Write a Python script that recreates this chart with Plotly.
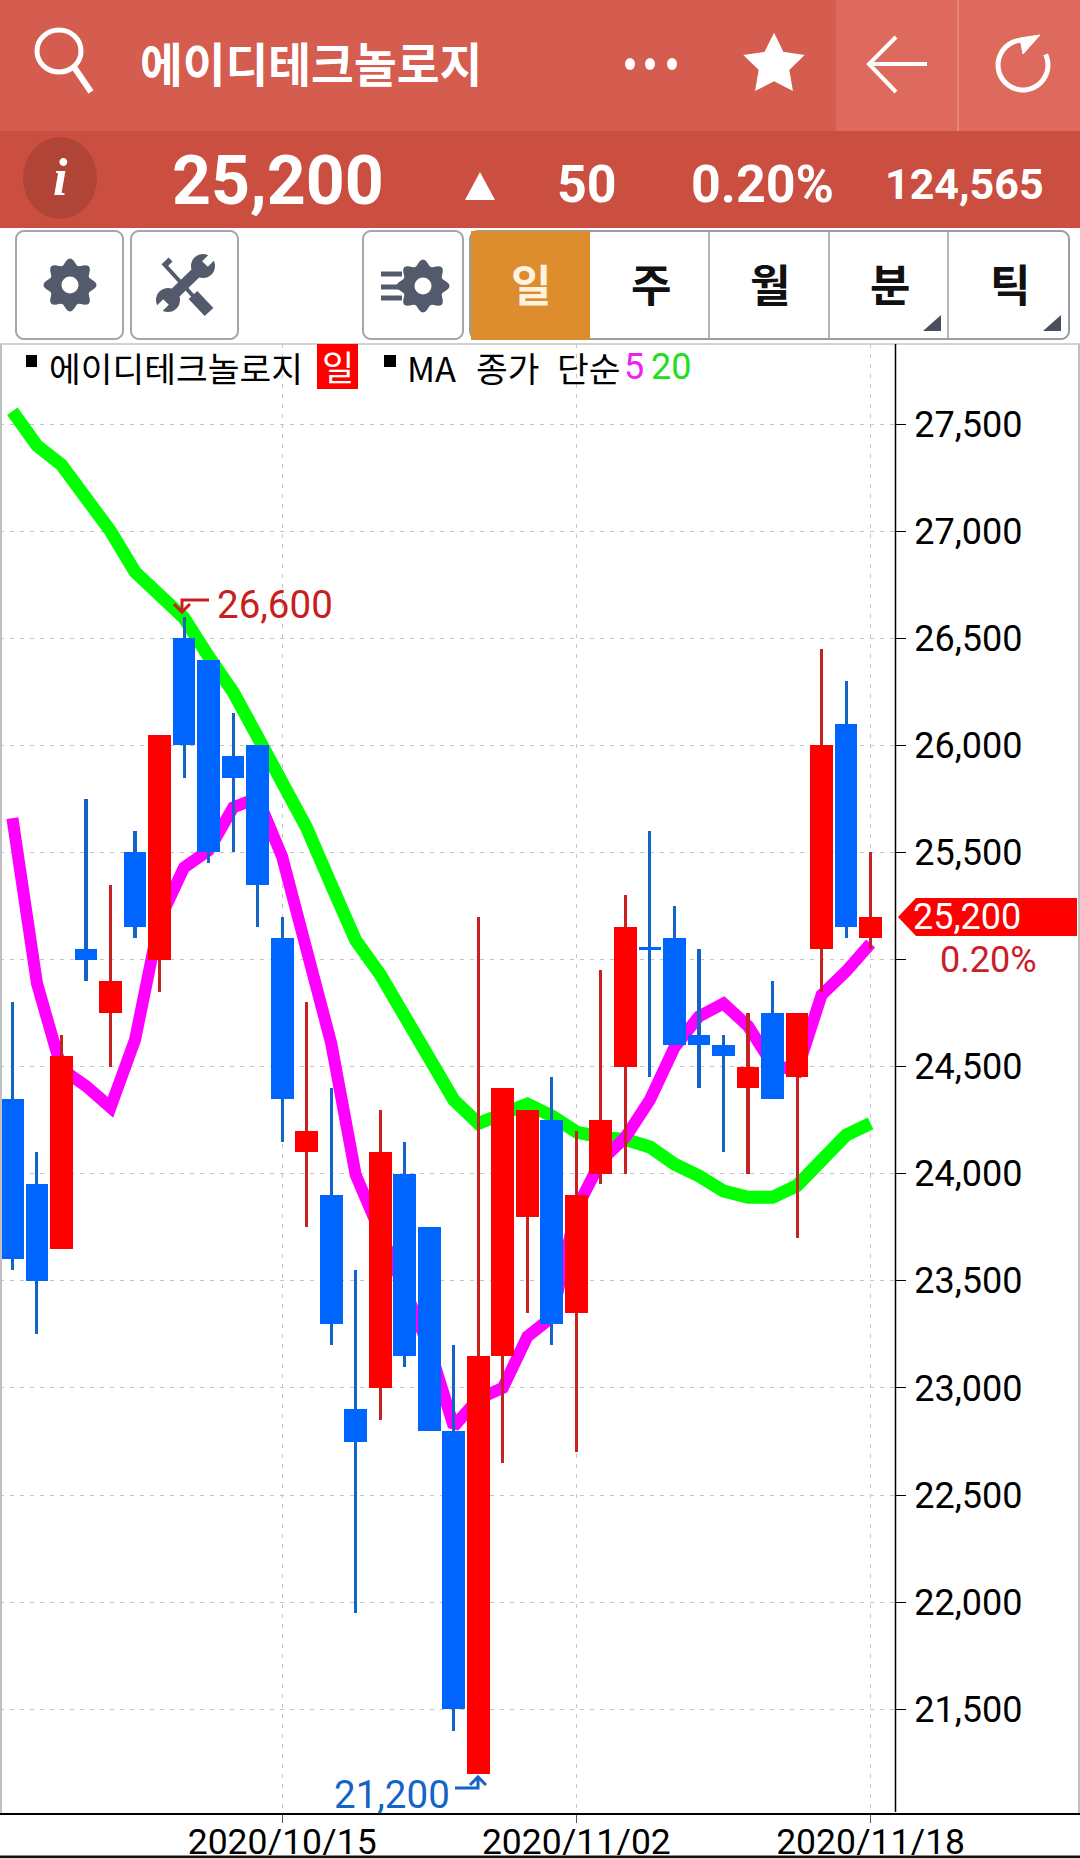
import math
import plotly.graph_objects as go

W, H = 1080, 1858
dates = ["2020/09/24","2020/09/25","2020/09/28","2020/09/29","2020/10/05","2020/10/06","2020/10/07","2020/10/08",
         "2020/10/12","2020/10/13","2020/10/14","2020/10/15","2020/10/16","2020/10/19","2020/10/20","2020/10/21",
         "2020/10/22","2020/10/23","2020/10/26","2020/10/27","2020/10/28","2020/10/29","2020/10/30","2020/11/02",
         "2020/11/03","2020/11/04","2020/11/05","2020/11/06","2020/11/09","2020/11/10","2020/11/11","2020/11/12",
         "2020/11/13","2020/11/16","2020/11/17","2020/11/18"]
opens  = [24350,23950,23650,25050,24750,25500,25000,26500,26400,25950,26000,25100,24100,23900,22900,23000,
          24000,23750,22800,21200,23150,23800,24250,23350,24000,24500,25057,25100,24650,24600,24400,24750,
          24450,25050,26100,25100]
closes = [23600,23500,24550,25000,24900,25150,26050,26000,25500,25850,25350,24350,24200,23300,22750,24100,
          23150,22800,21500,23150,24400,24300,23300,23900,24250,25150,25043,24600,24600,24550,24500,24350,
          24750,26000,25150,25200]
highs  = [24800,24100,24650,25750,25350,25600,26050,26600,26400,26150,26000,25200,24800,24400,23550,24300,
          24150,23750,23200,25200,24400,24300,24450,24200,24950,25300,25600,25250,25050,24650,24750,24900,
          24750,26450,26300,25500]
lows   = [23550,23250,23650,24900,24500,25100,24850,25850,25450,25500,25150,24150,23750,23200,21950,22850,
          23100,22800,21400,21200,22650,23350,23200,22700,23950,24000,24450,24600,24400,24100,24000,24350,
          23700,24850,25100,25050]
ma5  = [25660,24890,24490,24410,24310,24625,25185,25430,25510,25710,25755,25480,25045,24610,23995,23725,
        23460,23190,22820,22950,23000,23240,23330,23835,24060,24170,24345,24590,24735,24795,24690,24510,
        24480,24835,24945,25075]
ma20 = [27560,27400,27310,27160,27000,26810,26710,26595,26415,26250,26040,25825,25615,25350,25090,24930,
        24735,24515,24345,24235,24285,24325,24270,24195,24170,24160,24125,24045,23990,23920,23890,23890,
        23945,24055,24180,24235]
y_ticks = [21500,22000,22500,23000,23500,24000,24500,25000,25500,26000,26500,27000,27500]
y_labels = ["21,500","22,000","22,500","23,000","23,500","24,000","24,500","","25,500","26,000","26,500","27,000","27,500"]
x_ticks = ["2020/10/15","2020/11/02","2020/11/18"]

RED, BLUE = "#ff0000", "#0064ff"
RED_W, BLUE_W = "#c62222", "#1464c8"
KR, LAT = "Noto Sans CJK KR", "Roboto"

def px(x): return x / W
def py(y): return 1 - y / H

up = [c >= o for o, c in zip(opens, closes)]
fig = go.Figure()
fig.add_trace(go.Scatter(x=dates, y=ma20, mode="lines", line=dict(color="#00ff00", width=13), zorder=0, hoverinfo="skip"))
fig.add_trace(go.Scatter(x=dates, y=ma5, mode="lines", line=dict(color="#ff00ff", width=12), zorder=0, hoverinfo="skip"))
fig.add_trace(go.Bar(x=dates, base=lows, y=[h - l for h, l in zip(highs, lows)], width=0.125,
                     marker=dict(color=[RED_W if u else BLUE_W for u in up], line=dict(width=0)), zorder=1))
fig.add_trace(go.Bar(x=dates, base=[min(o, c) for o, c in zip(opens, closes)],
                     y=[abs(c - o) for o, c in zip(opens, closes)], width=0.93,
                     marker=dict(color=[RED if u else BLUE for u in up], line=dict(width=0)), zorder=2))

shapes, ann = [], []
def rect(x0, y0, x1, y1, fill=None, line=None, lw=0):
    shapes.append(dict(type="rect", xref="paper", yref="paper", x0=px(x0), x1=px(x1), y0=py(y0), y1=py(y1),
                       fillcolor=fill or "rgba(0,0,0,0)", line=dict(color=line or "rgba(0,0,0,0)", width=lw)))
def line(x0, y0, x1, y1, color, lw):
    shapes.append(dict(type="line", xref="paper", yref="paper", x0=px(x0), x1=px(x1), y0=py(y0), y1=py(y1),
                       line=dict(color=color, width=lw)))
def circ(cx, cy, rx, ry, fill=None, color=None, lw=0):
    shapes.append(dict(type="circle", xref="paper", yref="paper", x0=px(cx-rx), x1=px(cx+rx), y0=py(cy-ry), y1=py(cy+ry),
                       fillcolor=fill or "rgba(0,0,0,0)", line=dict(color=color or "rgba(0,0,0,0)", width=lw)))
def poly(pts, fill=None, color=None, lw=0, close=True):
    d = "M " + " L ".join(f"{px(a):.5f},{py(b):.5f}" for a, b in pts) + (" Z" if close else "")
    shapes.append(dict(type="path", xref="paper", yref="paper", path=d,
                       fillcolor=fill or "rgba(0,0,0,0)", line=dict(color=color or "rgba(0,0,0,0)", width=lw)))
def rrect(x0, y0, x1, y1, r, color, lw=2):
    pts = []
    for cx, cy, a0 in [(x1-r, y0+r, -90), (x1-r, y1-r, 0), (x0+r, y1-r, 90), (x0+r, y0+r, 180)]:
        for k in range(7):
            a = math.radians(a0 + k*15)
            pts.append((cx + r*math.cos(a), cy + r*math.sin(a)))
    poly(pts, color=color, lw=lw)
def text(x, y, s, size, color="#000", anchor="left", font=LAT, bold=False, italic=False):
    ann.append(dict(xref="paper", yref="paper", x=px(x), y=py(y), text=s, showarrow=False, xanchor=anchor, yanchor="middle",
                    font=dict(family=font, size=size, color=color, weight=700 if bold else 400,
                              style="italic" if italic else "normal"), borderpad=0, borderwidth=0))
def gear(cx, cy, hole, color):
    pts = []
    for k in range(96):
        a = math.radians(k*3.75)
        r = 23.5 + 3*math.cos(8*(a + math.pi/2))
        pts.append((cx + r*math.cos(a), cy + r*math.sin(a)))
    poly(pts, fill=color)
    circ(cx, cy, hole, hole, fill="#ffffff")

# header bands
rect(0, 0, W, 131, fill="#d45d50")
rect(836, 0, W, 131, fill="#dd6a5d")
line(958, 0, 958, 131, "#e88f85", 1.5)
rect(0, 131, W, 228, fill="#ca4f40")

# search icon
circ(59, 51, 22, 21, color="#ffffff", lw=5)
line(74, 67, 91, 92, "#ffffff", 6)
text(140, 62, "에이디테크놀로지", 46.5, "#ffffff", font=KR, bold=True)
for dx in (630, 650, 672):
    circ(dx, 64, 5, 6, fill="#ffffff")
# star
spts = []
for k in range(10):
    a = math.radians(-90 + k*36)
    r = 30 if k % 2 == 0 else 15
    spts.append((774 + r*math.cos(a), 65 + r*math.sin(a)))
poly(spts, fill="#ffffff", color="#ffffff", lw=2)
# back arrow
poly([(896, 37), (869, 64), (896, 92)], color="#ffffff", lw=4, close=False)
line(869, 64, 927, 64, "#ffffff", 4)
# refresh
arc = []
for k in range(0, 30):
    a = math.radians(-25 + k*10)
    arc.append((1023 + 25*math.cos(a), 65 + 25*math.sin(a)))
poly(arc, color="#ffffff", lw=5, close=False)
poly([(1040, 35), (1020, 38), (1023, 54)], fill="#ffffff", color="#ffffff", lw=1)

# info row
circ(60, 178, 37, 41, fill="#b04437")
text(60, 178, "i", 52, "#ffffff", anchor="center", font="Liberation Serif", bold=True, italic=True)
text(278, 181, "25,200", 68, "#ffffff", anchor="center", bold=True)
poly([(480, 172), (465, 200), (495, 200)], fill="#ffffff")
text(587, 184, "50", 52, "#ffffff", anchor="center", bold=True)
text(762, 184, "0.20%", 52, "#ffffff", anchor="center", bold=True)
text(964, 184, "124,565", 43, "#ffffff", anchor="center", bold=True)

# toolbar
rrect(16, 231, 123, 339, 8, "#a3a6ae")
rrect(131, 231, 238, 339, 8, "#a3a6ae")
rrect(363, 231, 463, 339, 8, "#a3a6ae")
gear(70, 285, 8.5, "#535a6b")
gear(423, 286, 8.5, "#535a6b")
for yy in (274, 287, 298):
    line(381, yy, 402, yy, "#535a6b", 5)
# tools
ic = "#535a6b"
line(163, 263, 195, 298, ic, 4)
line(166, 260, 170, 264, ic, 7)
line(193, 295, 209, 312, ic, 12)
line(169, 299, 201, 268, ic, 11)
circ(203, 266, 12, 12, fill=ic)
circ(168, 300, 12, 12, fill=ic)
line(205, 264, 217, 252, "#ffffff", 8)
line(166, 302, 154, 314, "#ffffff", 8)
rrect(470, 231, 1069, 339, 8, "#9a9da6")
rect(471, 231, 590, 340, fill="#dd8c2e")
for xx in (709, 829, 948):
    line(xx, 231, xx, 339, "#9a9da6", 1.5)
for xx, s, c in [(531, "일", "#fff3df"), (651, "주", "#111"), (770, "월", "#111"), (890, "분", "#111"), (1010, "틱", "#111")]:
    text(xx, 283, s, 44, c, anchor="center", font=KR, bold=True)
poly([(941, 315), (941, 331), (923, 331)], fill="#4a4f5e")
poly([(1061, 315), (1061, 331), (1043, 331)], fill="#4a4f5e")

# frame
line(0, 344, W, 344, "#c4c4c4", 1.5)
line(1, 344, 1, 1814, "#c0c0c0", 2)
line(1079, 344, 1079, 1814, "#c0c0c0", 2)
line(0, 1814, W, 1814, "#000000", 2)
line(895.5, 344, 895.5, 1812, "#000000", 1.5)
rect(0, 1855, W, 1856, fill="#8a8a8a")
rect(0, 1856, W, H, fill="#111111")

# legend row
rect(26, 355, 37, 367, fill="#000000")
text(49, 367, "에이디테크놀로지", 34.5, font=KR)
rect(317, 344, 358, 389, fill="#ff0000")
text(337.5, 366, "일", 35, "#ffffff", anchor="center", font=KR)
rect(384, 355, 396, 367, fill="#000000")
text(407, 367, "MA", 34.5, font=KR)
text(476, 367, "종가", 34.5, font=KR)
text(557, 367, "단순", 34.5, font=KR)
text(624, 367, "5", 36, "#ee22ee")
text(651, 367, "20", 36, "#22dd22")

# hi / lo labels
text(217, 605, "26,600", 38.5, "#c81e1e")
poly([(209, 600), (182, 600), (182, 612)], color="#c81e1e", lw=3, close=False)
poly([(174, 604), (182, 612), (190, 604)], color="#c81e1e", lw=3, close=False)
text(334, 1794, "21,200", 38.5, "#1464c8")
poly([(455, 1788), (478, 1788), (478, 1777)], color="#1464c8", lw=3, close=False)
poly([(470, 1785), (478, 1777), (486, 1785)], color="#1464c8", lw=3, close=False)

# current-price tag
poly([(898, 917), (916, 898), (1077, 898), (1077, 936), (916, 936)], fill="#ff0000")
text(913, 917, "25,200", 36, "#ffffff")
text(988, 960, "0.20%", 36, "#c8202a", anchor="center")

fig.update_layout(
    width=W, height=H, margin=dict(l=0, r=0, t=0, b=0), autosize=False,
    paper_bgcolor="#ffffff", plot_bgcolor="#ffffff", barmode="overlay", bargap=0, showlegend=False,
    shapes=shapes, annotations=ann, hovermode=False,
    xaxis=dict(domain=[0, 895/W], type="category", categoryorder="array", categoryarray=dates,
               range=[-0.506, 35.995], tickmode="array", tickvals=x_ticks, ticktext=x_ticks,
               showgrid=True, gridcolor="#c4c4c4", griddash="4px,6px", gridwidth=1,
               showline=False, ticks="outside", ticklen=8, tickcolor="#555555", ticklabelstandoff=-12,
               tickfont=dict(family=LAT, size=35.5, color="#000000"), fixedrange=True, automargin=False),
    yaxis=dict(domain=[1-1814/H, 1-344/H], range=[21011, 27874], side="right",
               tickmode="array", tickvals=y_ticks, ticktext=y_labels,
               showgrid=True, gridcolor="#c4c4c4", griddash="4px,6px", gridwidth=1, zeroline=False,
               showline=False, ticks="outside", ticklen=10, tickcolor="#000000",
               ticklabelstandoff=1, tickfont=dict(family=LAT, size=36, color="#000000"),
               fixedrange=True, automargin=False),
)
fig.write_html("out.html", config=dict(displayModeBar=False),
               post_script="document.body.style.margin='0';window.dispatchEvent(new Event('resize'));")
